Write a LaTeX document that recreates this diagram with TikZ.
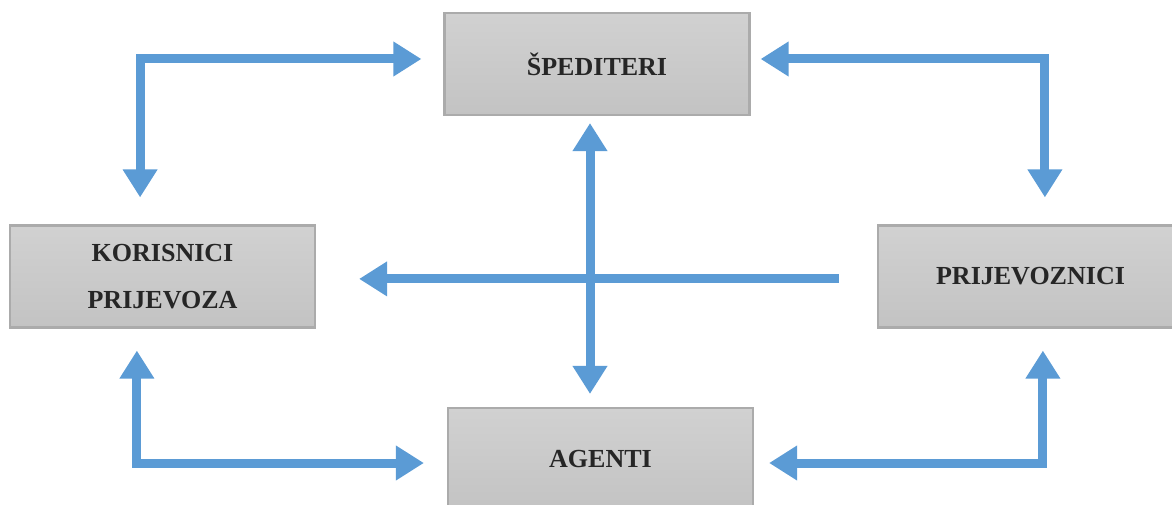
\documentclass[tikz,border=0pt]{standalone}
\usepackage{fontspec}
\setmainfont{Liberation Serif}
\usetikzlibrary{positioning}
\usetikzlibrary{arrows.meta}
\definecolor{BLUE}{HTML}{5B9BD5}
\definecolor{BOX_TOP}{HTML}{D1D1D1}
\definecolor{BOX_BOT}{HTML}{C3C3C3}
\definecolor{BOX_LINE}{HTML}{ABABAB}
\tikzset{
	every node/.style = {font=\fontsize{18.5}{33}\selectfont\bfseries},
	party/.style = {draw=BOX_LINE, line width=1.5pt, top color=BOX_TOP, bottom color=BOX_BOT,
		minimum width=7.625cm, minimum height=2.55cm, align=center, inner sep=0pt, text=black!85},
	flow/.style = {draw=BLUE, line width=6.4pt, -{Triangle[width=0.825cm,length=0.7cm]}},
	biflow/.style = {flow, {Triangle[width=0.825cm,length=0.7cm]}-{Triangle[width=0.825cm,length=0.7cm]}}
}
\begin{document}
\begin{tikzpicture}[x=0.025cm, y=-0.025cm]
		\useasboundingbox (0,0) rectangle (1172,505);
		% parties
		\node[party] (sped) at (597,64) {ŠPEDITERI};
		\node[party] (kor) at (162.5,276.5) {KORISNICI\\PRIJEVOZA};
		\node[party] (prij) at (1030.5,276.5) {PRIJEVOZNICI};
		\node[party] (agent) at (600.5,459) {AGENTI};
		
		% outer loop
		\draw[biflow, shorten <=0.675cm, shorten >=0.55cm]
		      ([xshift=-0.56cm]kor.north) |- ([yshift=0.125cm]sped.west);
		\draw[biflow, shorten <=0.25cm, shorten >=0.675cm]
		      ([yshift=0.125cm]sped.east) -| ([xshift=0.36cm]prij.north);
		\draw[biflow, shorten <=0.55cm, shorten >=0.575cm]
		      ([xshift=-0.64cm]kor.south) |- ([yshift=-0.1cm]agent.west);
		\draw[biflow, shorten <=0.375cm, shorten >=0.55cm]
		      ([yshift=-0.1cm]agent.east) -| ([xshift=0.31cm]prij.south);
		
		% cross in the middle
		\draw[biflow, shorten <=0.175cm, shorten >=0.325cm]
		      ([xshift=-0.175cm]sped.south) -- ([xshift=-0.175cm]sped.south |- agent.north);
		\draw[flow, shorten <=0.95cm, shorten >=1.075cm]
		      ([yshift=-0.06cm]prij.west) -- ([yshift=-0.06cm]prij.west -| kor.east);
	\end{tikzpicture}
\end{document}
